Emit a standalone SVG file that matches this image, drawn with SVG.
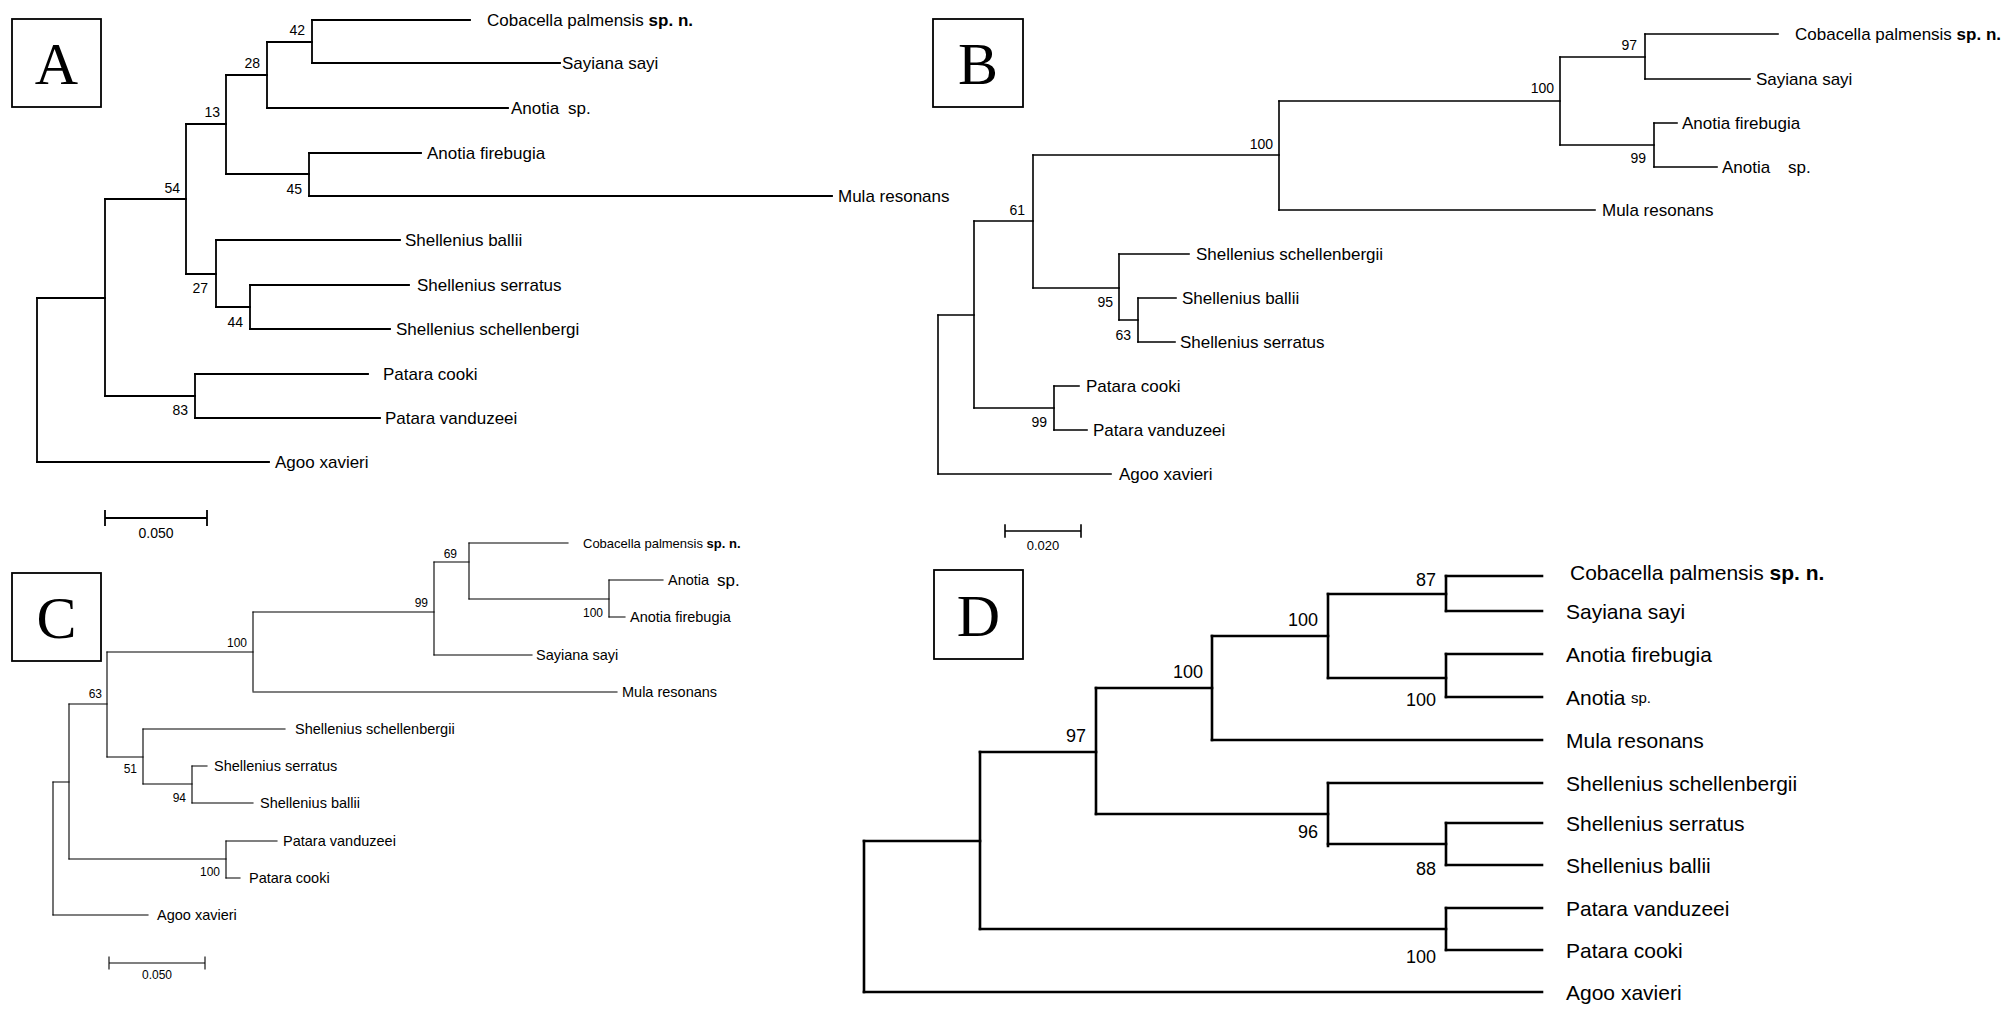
<svg xmlns="http://www.w3.org/2000/svg" width="2010" height="1015" viewBox="0 0 2010 1015">
<style>
.ln{fill:none;stroke:#000;stroke-linecap:square}
.pa{stroke-width:1.8}
.pb{stroke-width:1.6}
.pc{stroke-width:1.1}
.pd{stroke-width:2.6}
.t{font-family:"Liberation Sans",Arial,sans-serif;fill:#000}
.lf{dominant-baseline:central}
.fa{font-size:17px}
.fb{font-size:17px}
.fc{font-size:14.5px}
.fd{font-size:21px}
.na{font-size:14px;text-anchor:end}
.nb{font-size:14px;text-anchor:end}
.nc{font-size:12px;text-anchor:end}
.nd{font-size:18px;text-anchor:end}
.b{font-weight:bold}
.box{fill:#fff;stroke:#000;stroke-width:1.8}
.let{font-family:"Liberation Serif","Times New Roman",serif;font-size:60px;text-anchor:middle;fill:#000}
.sc{font-size:14px;text-anchor:middle}
</style>
<rect width="2010" height="1015" fill="#fff"/>

<!-- ===== Panel A ===== -->
<g id="panelA-box"><rect class="box" x="12" y="19" width="89" height="88"/><text class="let" x="56.5" y="84">A</text></g>
<g id="connectors-A" class="ln pa">
<path d="M37 298V462M105 199V396M186 124V274M226 75V174M267 42V108M312 20V63M309 153V196M216 240V307M250 285V329M195 374V418"/>
<path d="M37 298H105M37 462H269M105 199H186M105 396H195M186 124H226M186 274H216M226 75H267M226 174H309M267 42H312M267 108H508M312 20H470M312 63H560M309 153H421M309 196H832M216 240H400M216 307H250M250 285H409M250 329H390M195 374H368M195 418H380"/>
</g>
<g id="nodes-A" class="t">
<g id="A-n42"><text class="na" x="305" y="35">42</text></g>
<g id="A-n28"><text class="na" x="260" y="68">28</text></g>
<g id="A-n13"><text class="na" x="220" y="117">13</text></g>
<g id="A-n45"><text class="na" x="302" y="194">45</text></g>
<g id="A-n54"><text class="na" x="180" y="193">54</text></g>
<g id="A-n27"><text class="na" x="208" y="293">27</text></g>
<g id="A-n44"><text class="na" x="243" y="327">44</text></g>
<g id="A-n83"><text class="na" x="188" y="415">83</text></g>
<g id="A-cob"><text class="lf fa" x="487" y="20">Cobacella palmensis <tspan class="b">sp. n.</tspan></text></g>
<g id="A-say"><text class="lf fa" x="562" y="63">Sayiana sayi</text></g>
<g id="A-anosp"><text class="lf fa" x="511" y="108">Anotia<tspan x="568">sp.</tspan></text></g>
<g id="A-fire"><text class="lf fa" x="427" y="153">Anotia firebugia</text></g>
<g id="A-mula"><text class="lf fa" x="838" y="196">Mula resonans</text></g>
<g id="A-ball"><text class="lf fa" x="405" y="240">Shellenius ballii</text></g>
<g id="A-serr"><text class="lf fa" x="417" y="285">Shellenius serratus</text></g>
<g id="A-sch"><text class="lf fa" x="396" y="329">Shellenius schellenbergi</text></g>
<g id="A-cook"><text class="lf fa" x="383" y="374">Patara cooki</text></g>
<g id="A-vand"><text class="lf fa" x="385" y="418">Patara vanduzeei</text></g>
<g id="A-agoo"><text class="lf fa" x="275" y="462">Agoo xavieri</text></g>
<g id="A-scale"><path class="ln pa" d="M105 518H207M105 511V525M207 511V525"/><text class="t sc" x="156" y="538">0.050</text></g>
</g>

<!-- ===== Panel B ===== -->
<g id="panelB-box"><rect class="box" x="933" y="19" width="90" height="88"/><text class="let" x="978" y="84">B</text></g>
<g id="connectors-B" class="ln pb">
<path d="M938 315V474M974 221V408M1033 155V288M1279 101V210M1560 57V145M1645 34V79M1654 123V167M1119 254V320M1138 298V342M1054 386V430"/>
<path d="M938 315H974M938 474H1111M974 221H1033M974 408H1054M1033 155H1279M1033 288H1119M1279 101H1560M1279 210H1595M1560 57H1645M1560 145H1654M1645 34H1778M1645 79H1750M1654 123H1677M1654 167H1717M1119 254H1189M1119 320H1138M1138 298H1176M1138 342H1175M1054 386H1079M1054 430H1087"/>
</g>
<g id="nodes-B" class="t">
<g id="B-n100b"><text class="nb" x="1554" y="93">100</text></g>
<g id="B-n97"><text class="nb" x="1637" y="50">97</text></g>
<g id="B-n99"><text class="nb" x="1646" y="163">99</text></g>
<g id="B-n100a"><text class="nb" x="1273" y="149">100</text></g>
<g id="B-n61"><text class="nb" x="1025" y="215">61</text></g>
<g id="B-n95"><text class="nb" x="1113" y="307">95</text></g>
<g id="B-n63"><text class="nb" x="1131" y="340">63</text></g>
<g id="B-n99p"><text class="nb" x="1047" y="427">99</text></g>
<g id="B-cob"><text class="lf fb" x="1795" y="34">Cobacella palmensis <tspan class="b">sp. n.</tspan></text></g>
<g id="B-say"><text class="lf fb" x="1756" y="79">Sayiana sayi</text></g>
<g id="B-fire"><text class="lf fb" x="1682" y="123">Anotia firebugia</text></g>
<g id="B-anosp"><text class="lf fb" x="1722" y="167">Anotia<tspan x="1788">sp.</tspan></text></g>
<g id="B-mula"><text class="lf fb" x="1602" y="210">Mula resonans</text></g>
<g id="B-sch"><text class="lf fb" x="1196" y="254">Shellenius schellenbergii</text></g>
<g id="B-ball"><text class="lf fb" x="1182" y="298">Shellenius ballii</text></g>
<g id="B-serr"><text class="lf fb" x="1180" y="342">Shellenius serratus</text></g>
<g id="B-cook"><text class="lf fb" x="1086" y="386">Patara cooki</text></g>
<g id="B-vand"><text class="lf fb" x="1093" y="430">Patara vanduzeei</text></g>
<g id="B-agoo"><text class="lf fb" x="1119" y="474">Agoo xavieri</text></g>
<g id="B-scale"><path class="ln pb" d="M1005 531H1081M1005 525V537M1081 525V537"/><text class="t sc" x="1043" y="550" style="font-size:13px">0.020</text></g>
</g>

<!-- ===== Panel C ===== -->
<g id="panelC-box"><rect class="box" x="12" y="573" width="89" height="88"/><text class="let" x="56.5" y="638">C</text></g>
<g id="connectors-C" class="ln pc">
<path d="M53 782V915M69 704V859M107 652V757M253 612V691M434 562V655M469 543V599M609 580V617M143 729V784M192 766V803M226 841V878"/>
<path d="M53 782H69M53 915H148M69 704H107M69 859H226M107 652H253M107 757H143M253 612H434M253 692H617M434 562H469M434 655H532M469 543H568M469 599H609M609 580H663M609 617H625M143 729H285M143 784H192M192 766H207M192 803H253M226 841H277M226 878H240"/>
</g>
<g id="nodes-C" class="t">
<g id="C-n100"><text class="nc" x="247" y="647">100</text></g>
<g id="C-n63"><text class="nc" x="102" y="698">63</text></g>
<g id="C-n99"><text class="nc" x="428" y="607">99</text></g>
<g id="C-n69"><text class="nc" x="457" y="558">69</text></g>
<g id="C-n100c"><text class="nc" x="603" y="617">100</text></g>
<g id="C-n51"><text class="nc" x="137" y="773">51</text></g>
<g id="C-n94"><text class="nc" x="186" y="802">94</text></g>
<g id="C-n100p"><text class="nc" x="220" y="876">100</text></g>
<g id="C-cob"><text class="lf" x="583" y="543" style="font-size:13px">Cobacella palmensis <tspan class="b">sp. n.</tspan></text></g>
<g id="C-anosp"><text class="lf fc" x="668" y="580">Anotia<tspan x="717" style="font-size:17px">sp.</tspan></text></g>
<g id="C-fire"><text class="lf fc" x="630" y="617">Anotia firebugia</text></g>
<g id="C-say"><text class="lf fc" x="536" y="655">Sayiana sayi</text></g>
<g id="C-mula"><text class="lf fc" x="622" y="692">Mula resonans</text></g>
<g id="C-sch"><text class="lf fc" x="295" y="729">Shellenius schellenbergii</text></g>
<g id="C-serr"><text class="lf fc" x="214" y="766">Shellenius serratus</text></g>
<g id="C-ball"><text class="lf fc" x="260" y="803">Shellenius ballii</text></g>
<g id="C-vand"><text class="lf fc" x="283" y="841">Patara vanduzeei</text></g>
<g id="C-cook"><text class="lf fc" x="249" y="878">Patara cooki</text></g>
<g id="C-agoo"><text class="lf fc" x="157" y="915">Agoo xavieri</text></g>
<g id="C-scale"><path class="ln pc" d="M109 963H205M109 957V969M205 957V969"/><text class="t sc" x="157" y="979" style="font-size:12px">0.050</text></g>
</g>

<!-- ===== Panel D ===== -->
<g id="panelD-box"><rect class="box" x="934" y="570" width="89" height="89"/><text class="let" x="978.5" y="636">D</text></g>
<g id="connectors-D" class="ln pd">
<path d="M864 841V992M980 752V929M1096 688V814M1212 636V740M1328 594V678M1446 576V611M1446 654V697M1328 783V846M1446 823V865M1446 908V950"/>
<path d="M864 841H980M864 992H1542M980 752H1096M980 929H1446M1096 688H1212M1096 814H1328M1212 636H1328M1212 740H1542M1328 594H1446M1328 678H1446M1446 576H1542M1446 611H1542M1446 654H1542M1446 697H1542M1328 783H1542M1328 844H1446M1446 823H1542M1446 865H1542M1446 908H1542M1446 950H1542"/>
</g>
<g id="nodes-D" class="t">
<g id="D-n87"><text class="nd" x="1436" y="586">87</text></g>
<g id="D-n100b"><text class="nd" x="1318" y="626">100</text></g>
<g id="D-n100a"><text class="nd" x="1203" y="678">100</text></g>
<g id="D-n97"><text class="nd" x="1086" y="742">97</text></g>
<g id="D-n100c"><text class="nd" x="1436" y="706">100</text></g>
<g id="D-n96"><text class="nd" x="1318" y="838">96</text></g>
<g id="D-n88"><text class="nd" x="1436" y="875">88</text></g>
<g id="D-n100p"><text class="nd" x="1436" y="963">100</text></g>
<g id="D-cob"><text class="lf fd" x="1570" y="572">Cobacella palmensis <tspan class="b">sp. n.</tspan></text></g>
<g id="D-say"><text class="lf fd" x="1566" y="611">Sayiana sayi</text></g>
<g id="D-fire"><text class="lf fd" x="1566" y="654">Anotia firebugia</text></g>
<g id="D-anosp"><text class="lf fd" x="1566" y="697">Anotia<tspan x="1631" style="font-size:15px">sp.</tspan></text></g>
<g id="D-mula"><text class="lf fd" x="1566" y="740">Mula resonans</text></g>
<g id="D-sch"><text class="lf fd" x="1566" y="783">Shellenius schellenbergii</text></g>
<g id="D-serr"><text class="lf fd" x="1566" y="823">Shellenius serratus</text></g>
<g id="D-ball"><text class="lf fd" x="1566" y="865">Shellenius ballii</text></g>
<g id="D-vand"><text class="lf fd" x="1566" y="908">Patara vanduzeei</text></g>
<g id="D-cook"><text class="lf fd" x="1566" y="950">Patara cooki</text></g>
<g id="D-agoo"><text class="lf fd" x="1566" y="992">Agoo xavieri</text></g>
</g>
</svg>
